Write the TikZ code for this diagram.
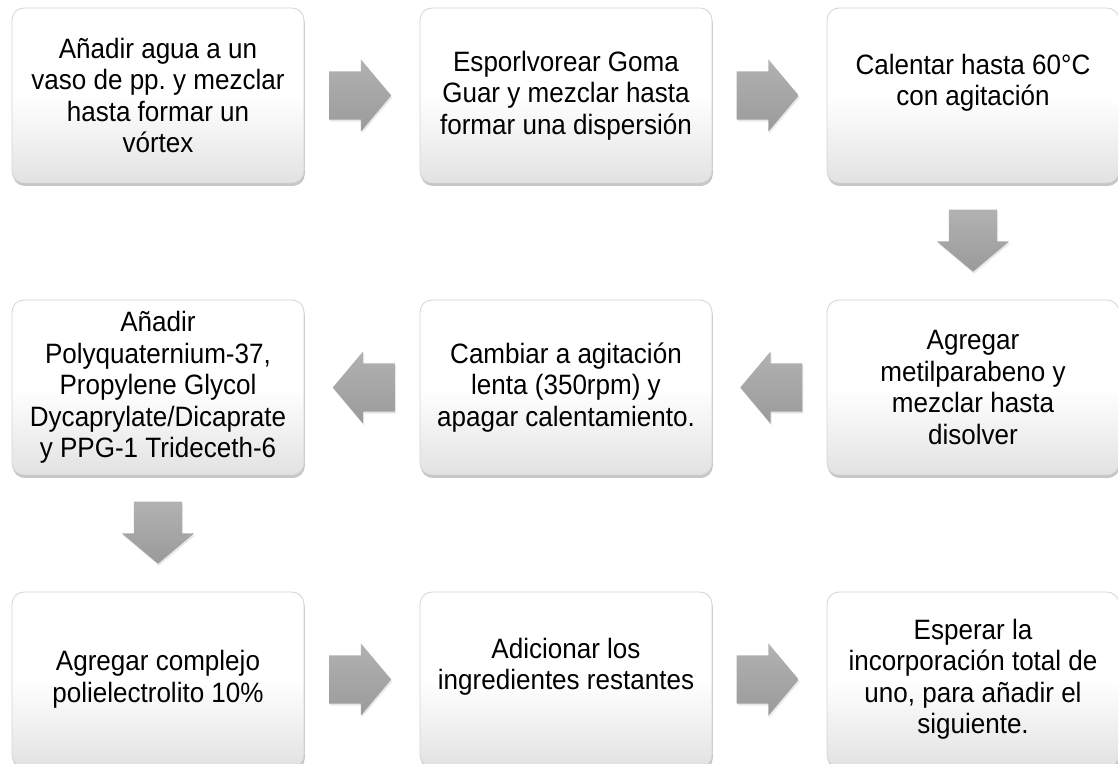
\documentclass[tikz,border=0pt]{standalone}
\usepackage{fontspec}
\setmainfont{Liberation Sans}[FakeStretch=0.93]
\usetikzlibrary{positioning, shapes.arrows, shadows, calc}
\definecolor{stepGrey}{HTML}{E2E2E2}
\definecolor{stepEdge}{HTML}{D4D4D4}
\definecolor{arrowTop}{HTML}{B2B2B2}
\definecolor{arrowBottom}{HTML}{9A9A9A}

\begin{document}
\frenchspacing
\begin{tikzpicture}[
  x=1pt, y=1pt,
  stagebox/.style={rounded corners=12pt, minimum width=292pt, minimum height=175pt,
    inner sep=4pt, align=center, font=\fontsize{28}{31.5}\selectfont,
    draw=stepEdge, line width=0.8pt,
    top color=white, bottom color=stepGrey, middle color=white,
    drop shadow={opacity=0.45, shadow xshift=0.8pt, shadow yshift=-3pt}},
  blockarrow/.style={single arrow, anchor=tail, inner xsep=0pt, inner ysep=24pt, minimum height=62pt,
    single arrow head extend=12pt, single arrow tip angle=100,
    top color=arrowTop, bottom color=arrowBottom,
    drop shadow={opacity=0.18, shadow xshift=1pt, shadow yshift=-2pt}},
  leftarrow/.style={blockarrow, shape border rotate=180},
  downarrow/.style={blockarrow, shape border rotate=270, inner xsep=24pt, inner ysep=0pt}
]

  \useasboundingbox (0,0) rectangle (1118,763);

  % first row
  \node[stagebox] (mix) at (158,667.5)
    {Añadir agua a un\\vaso de pp. y mezclar\\hasta formar un\\vórtex};
  \node[stagebox] (guar) at (566,667.5)
    {Esporlvorear Goma\\Guar y mezclar hasta\\formar una dispersión};
  \node[stagebox] (heat) at (973,667.5)
    {Calentar hasta 60°C\\con agitación\\\phantom{x}};

  % second row
  \node[stagebox] (paraben) at (973,375.5)
    {Agregar\\metilparabeno y\\mezclar hasta\\disolver};
  \node[stagebox] (slow) at (566,375.5)
    {Cambiar a agitación\\lenta (350rpm) y\\apagar calentamiento.};
  \node[stagebox] (polyq) at (158,375.5)
    {Añadir\\Polyquaternium-37,\\Propylene Glycol\\Dycaprylate/Dicaprate\\y PPG-1 Trideceth-6};

  % third row
  \node[stagebox] (complex) at (158,83.5)
    {Agregar complejo\\polielectrolito 10\%};
  \node[stagebox] (rest) at (566,83.5)
    {Adicionar los\\ingredientes restantes\\\phantom{x}};
  \node[stagebox] (wait) at (973,83.5)
    {Esperar la\\incorporación total de\\uno, para añadir el\\siguiente.};

  % block arrows between the steps (placed by their tails)
  \node[blockarrow] (mixToGuar) at ($(mix.east)!0.5!(guar.west)+(-33,0)$) {};
  \node[blockarrow] (guarToHeat) at ($(guar.east)!0.5!(heat.west)+(-33,0)$) {};
  \node[downarrow] (heatToParaben) at ($(heat.south)!0.5!(paraben.north)+(0,32)$) {};
  \node[leftarrow] (parabenToSlow) at ($(paraben.west)!0.5!(slow.east)+(33,0)$) {};
  \node[leftarrow] (slowToPolyq) at ($(slow.west)!0.5!(polyq.east)+(33,0)$) {};
  \node[downarrow] (polyqToComplex) at ($(polyq.south)!0.5!(complex.north)+(0,32)$) {};
  \node[blockarrow] (complexToRest) at ($(complex.east)!0.5!(rest.west)+(-33,0)$) {};
  \node[blockarrow] (restToWait) at ($(rest.east)!0.5!(wait.west)+(-33,0)$) {};

\end{tikzpicture}
\end{document}
